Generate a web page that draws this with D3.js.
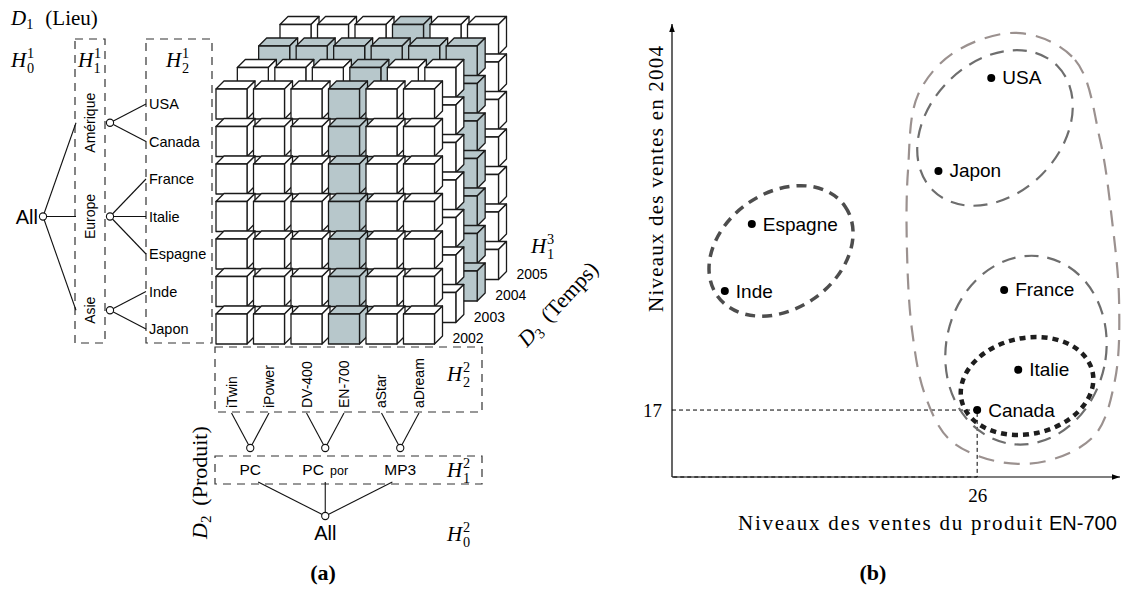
<!DOCTYPE html>
<html><head><meta charset="utf-8">
<script src="https://cdn.jsdelivr.net/npm/d3@7"></script>
<style>body{margin:0;background:#fff} svg{display:block}</style>
</head><body><div id="fig"></div>
<script>
// --- figure (a) : le cube et ses hiérarchies
const produits = ["iTwin","iPower","DV-400","EN-700","aStar","aDream"];
const categories = ["PC","PC por","MP3"];
const categorieDe = [["iTwin","iPower"],["DV-400","EN-700"],["aStar","aDream"]];
const pays = ["USA","Canada","France","Italie","Espagne","Inde","Japon"];
const regions = ["Amérique","Europe","Asie"];
const regionDe = [["USA","Canada"],["France","Italie","Espagne"],["Inde","Japon"]];
const annees = ["2002","2003","2004","2005"];
const produitChoisi = "EN-700", anneeChoisie = "2004";

// --- figure (b) : ventes par pays
const paysB = ["USA","Japon","Espagne","Inde","France","Italie","Canada"];
const ventesEN700 = [27.2,22.7,6.8,4.5,28.3,29.5,26];
const ventes2004 = [101.3,77.7,64.2,47.2,47.5,27.2,17];
const ticksX = [26], ticksY = [17];
const groupes = [["Espagne","Inde"],["USA","Japon"],["France","Italie","Canada"],["Italie","Canada"]];
const groupeLarge = ["USA","Japon","France","Italie","Canada"];
// contour du grand groupe (unités des axes)
const contourX = [29.65,34.34,36.47,37.49,38.09,37.74,36.04,32.21,27.95,23.69,21.56,20.45,20.02,20.11,20.96,24.11];
const contourY = [112.7,105.9,85.6,65.2,44.9,24.6,10.7,4.3,3.8,9.4,20.8,37.3,57.6,77.9,97.0,107.9];

const W = 1127, H = 592;
const serif = "'Liberation Serif', serif", sans = "'Liberation Sans', sans-serif";
const svg = d3.select("#fig").append("svg").attr("width", W).attr("height", H)
  .style("background", "#fff");

// texte mathématique : H avec indice et exposant
function mathH(g, x, y, sub, sup, size){
  const t = g.append("text").attr("x", x).attr("y", y)
    .attr("font-family", serif).attr("font-size", size);
  t.append("tspan").attr("font-style", "italic").text("H");
  t.append("tspan").attr("font-size", size*0.68).attr("dx", size*0.04).attr("dy", -size*0.45).text(sup);
  t.append("tspan").attr("font-size", size*0.68).attr("dx", -size*0.34).attr("dy", size*0.75).text(sub);
  return t;
}
function mathD(g, x, y, sub, rest, size, gap){
  const t = g.append("text").attr("x", x).attr("y", y)
    .attr("font-family", serif).attr("font-size", size);
  t.append("tspan").attr("font-style", "italic").text("D");
  t.append("tspan").attr("font-size", size*0.68).attr("dy", size*0.2).text(sub);
  t.append("tspan").attr("dy", -size*0.2).attr("dx", gap).text(rest);
  return t;
}

// ================= (a)
const xCol = d3.scaleBand().domain(produits).range([216, 434.5]).paddingInner(0.173);
const yRow = d3.scaleBand().domain(pays).range([89, 344]).paddingInner(0.2);
const zDx = d3.scalePoint().domain(annees).range([0, 64]);
const zDy = d3.scalePoint().domain(annees).range([0, -64.5]);
const prof = 8;
const grisCube = "#b7c7cb";

const cells = [];
annees.slice().reverse().forEach(a => pays.forEach(p => produits.forEach(pr => cells.push({a, p, pr}))));

const bw = xCol.bandwidth(), bh = yRow.bandwidth();
const cube = svg.append("g");
const cg = cube.selectAll("g.c").data(cells).enter().append("g")
  .attr("class", "c")
  .attr("transform", d => "translate(" + (xCol(d.pr) + zDx(d.a)) + "," + (yRow(d.p) + zDy(d.a)) + ")")
  .attr("fill", d => (d.pr == produitChoisi || d.a == anneeChoisie) ? grisCube : "#fff")
  .attr("stroke", "#1a1a1a").attr("stroke-width", 1.3).attr("stroke-linejoin", "round");
cg.append("path").attr("d", "M0,0L" + prof + "," + (-prof) + "L" + (bw + prof) + "," + (-prof) + "L" + bw + ",0Z");
cg.append("path").attr("d", "M" + bw + ",0L" + (bw + prof) + "," + (-prof) + "L" + (bw + prof) + "," + (bh - prof) + "L" + bw + "," + bh + "Z");
cg.append("rect").attr("width", bw).attr("height", bh);

// étiquettes des années
svg.append("g").selectAll("text").data(annees).enter().append("text")
  .attr("x", d => xCol.range()[1] + 18 + zDx(d))
  .attr("y", d => 343 + zDy(d))
  .attr("font-family", sans).attr("font-size", 14).text(d => d);

// hiérarchie des lieux
const dash = "8 6";
const boxes = svg.append("g").attr("fill", "none").attr("stroke", "#333").attr("stroke-width", 1.2).attr("stroke-dasharray", dash);
boxes.append("rect").attr("x", 75).attr("y", 39).attr("width", 30).attr("height", 304);
boxes.append("rect").attr("x", 146).attr("y", 39).attr("width", 66).attr("height", 304);
boxes.append("rect").attr("x", 215).attr("y", 347).attr("width", 267).attr("height", 65);
boxes.append("rect").attr("x", 215).attr("y", 456).attr("width", 267).attr("height", 28);

const rowC = p => yRow(p) + bh/2;
const regC = regionDe.map(m => d3.mean(m, rowC));
const allY = d3.mean(regC), allX = 43;
const nodeX = 110;
const tree = svg.append("g").attr("stroke", "#111").attr("stroke-width", 1.1);
regions.forEach((r, i) => {
  tree.append("line").attr("x1", allX).attr("y1", allY).attr("x2", 76).attr("y2", regC[i]);
  regionDe[i].forEach(p => {
    tree.append("line").attr("x1", nodeX).attr("y1", regC[i]).attr("x2", 146).attr("y2", rowC(p));
  });
});
const nodes = svg.append("g").attr("fill", "#fff").attr("stroke", "#111").attr("stroke-width", 1.1);
nodes.append("circle").attr("cx", allX).attr("cy", allY).attr("r", 3.6);
regC.forEach(y => nodes.append("circle").attr("cx", nodeX).attr("cy", y).attr("r", 3.6));

svg.append("text").attr("x", allX - 5).attr("y", allY).attr("text-anchor", "end")
  .attr("dominant-baseline", "central").attr("font-family", sans).attr("font-size", 20).text("All");
regions.forEach((r, i) => {
  svg.append("text").attr("transform", "translate(95," + regC[i] + ") rotate(-90)")
    .attr("text-anchor", "middle").attr("font-family", sans).attr("font-size", 14).text(r);
});
svg.append("g").selectAll("text").data(pays).enter().append("text")
  .attr("x", 149).attr("y", d => rowC(d)).attr("dominant-baseline", "central")
  .attr("font-family", sans).attr("font-size", 14.5).text(d => d);

// hiérarchie des produits
const colC = p => xCol(p) + bw/2;
const catX = categorieDe.map(m => d3.mean(m, colC));
const catY = 448, all2X = d3.mean(catX), all2Y = 516;
categorieDe.forEach((m, i) => {
  m.forEach(p => tree.append("line").attr("x1", colC(p)).attr("y1", 413).attr("x2", catX[i]).attr("y2", catY));
  const t = (all2Y - 482) / (all2Y - 478);
  tree.append("line").attr("x1", all2X).attr("y1", all2Y)
    .attr("x2", all2X + (catX[i] - all2X) * t).attr("y2", 482);
});
catX.forEach(x => nodes.append("circle").attr("cx", x).attr("cy", catY).attr("r", 3.6));
nodes.append("circle").attr("cx", all2X).attr("cy", all2Y).attr("r", 3.6);
svg.append("g").selectAll("text").data(produits).enter().append("text")
  .attr("transform", d => "translate(" + (colC(d) + 5) + ",408) rotate(-90)")
  .attr("font-family", sans).attr("font-size", 14).text(d => d);
categories.forEach((c, i) => {
  const t = svg.append("text").attr("x", catX[i]).attr("y", 475).attr("text-anchor", "middle")
    .attr("font-family", sans).attr("font-size", 15.5);
  const parts = c.split(" ");
  t.append("tspan").text(parts[0]);
  if (parts[1]) t.append("tspan").attr("font-size", 12.5).text("\u2002" + parts[1]);
});
svg.append("text").attr("x", all2X).attr("y", 540).attr("text-anchor", "middle")
  .attr("font-family", sans).attr("font-size", 20).text("All");

// titres mathématiques
mathD(svg, 11, 25, "1", "(Lieu)", 21, 12);
mathH(svg, 11, 67, "0", "1", 21);
mathH(svg, 78, 67, "1", "1", 21);
mathH(svg, 166, 67, "2", "1", 21);
mathH(svg, 447, 381, "2", "2", 21);
mathH(svg, 447, 477, "1", "2", 21);
mathH(svg, 447, 541, "0", "2", 21);
mathH(svg, 531, 253, "1", "3", 21);
mathD(svg.append("g").attr("transform", "translate(207,539) rotate(-90)"), 0, 0, "2", "(Produit)", 22, 10);
mathD(svg.append("g").attr("transform", "translate(527,348) rotate(-47)"), 0, 0, "3", "(Temps)", 22, 10);
svg.append("text").attr("x", 323).attr("y", 580).attr("text-anchor", "middle")
  .attr("font-family", serif).attr("font-weight", "bold").attr("font-size", 22).text("(a)");

// ================= (b)
const x = d3.scaleLinear().domain([0, 38]).range([672, 1118]);
const y = d3.scaleLinear().domain([0, 115]).range([477, 24]);

svg.append("defs").append("marker").attr("id", "fl")
  .attr("viewBox", "0 -5 10 10").attr("refX", 10).attr("refY", 0)
  .attr("markerUnits", "userSpaceOnUse").attr("markerWidth", 10).attr("markerHeight", 8)
  .attr("orient", "auto").append("path").attr("d", "M0,-3.5L10,0L0,3.5Z").attr("fill", "#000");

const gb = svg.append("g");
// pointillés vers Canada
gb.append("path")
  .attr("d", d3.line()([[x(0), y(ticksY[0])], [x(ticksX[0]), y(ticksY[0])], [x(ticksX[0]), y(0)], [x(0), y(0)]]))
  .attr("fill", "none").attr("stroke", "#000").attr("stroke-width", 1).attr("stroke-dasharray", "4 3");
gb.append("line").attr("x1", x(0)).attr("y1", y(0)).attr("x2", x(0)).attr("y2", y.range()[1])
  .attr("stroke", "#000").attr("stroke-width", 1.2).attr("marker-end", "url(#fl)");
gb.append("line").attr("x1", x(0)).attr("y1", y(0)).attr("x2", x.range()[1] + 2).attr("y2", y(0))
  .attr("stroke", "#000").attr("stroke-width", 1.2).attr("marker-end", "url(#fl)");

const ax = gb.append("g").attr("transform", "translate(0," + y(0) + ")")
  .call(d3.axisBottom(x).tickValues(ticksX).tickSize(0).tickPadding(12).tickFormat(d3.format("d")));
const ay = gb.append("g").attr("transform", "translate(" + x(0) + ",0)")
  .call(d3.axisLeft(y).tickValues(ticksY).tickSize(0).tickPadding(10).tickFormat(d3.format("d")));
[ax, ay].forEach(a => {
  a.select(".domain").remove();
  a.selectAll("text").attr("font-family", serif).attr("font-size", 19).attr("fill", "#000");
});

// contours des groupes
const pos = {};
paysB.forEach((p, i) => pos[p] = [ventesEN700[i], ventes2004[i]]);
const formes = [
  {c:[9.29, 57.4], rx:78, ry:58, rot:-35, col:"#4d4d4d", w:3.5, d:"10 7"},
  {c:[27.52, 88.6], rx:88, ry:66, rot:-45, col:"#6e6e6e", w:2.2, d:"14 9"},
  {c:[30.16, 32.2], rx:80, ry:95, rot:12, col:"#6e6e6e", w:2.2, d:"14 9"},
  {c:[30.25, 23.1], rx:67, ry:48, rot:-12, col:"#1e1e1e", w:4.5, d:"6 5"}
];
gb.append("path")
  .attr("d", d3.line().curve(d3.curveCatmullRomClosed.alpha(0.5))(contourX.map((v, i) => [x(v), y(contourY[i])])))
  .attr("fill", "none").attr("stroke", "#9b918f").attr("stroke-width", 2.2).attr("stroke-dasharray", "16 10");
groupes.forEach((g, i) => {
  const f = formes[i];
  gb.append("ellipse").attr("cx", 0).attr("cy", 0).attr("rx", f.rx).attr("ry", f.ry)
    .attr("transform", "translate(" + x(f.c[0]) + "," + y(f.c[1]) + ") rotate(" + f.rot + ")")
    .attr("fill", "none").attr("stroke", f.col).attr("stroke-width", f.w).attr("stroke-dasharray", f.d);
});

gb.selectAll("circle.pt").data(paysB).enter().append("circle").attr("class", "pt")
  .attr("cx", d => x(pos[d][0])).attr("cy", d => y(pos[d][1])).attr("r", 4).attr("fill", "#000");
gb.selectAll("text.pl").data(paysB).enter().append("text").attr("class", "pl")
  .attr("x", d => x(pos[d][0]) + 11).attr("y", d => y(pos[d][1])).attr("dominant-baseline", "central")
  .attr("font-family", sans).attr("font-size", 19).text(d => d);

gb.append("text").attr("transform", "translate(663,179) rotate(-90)")
  .attr("text-anchor", "middle").attr("font-family", serif).attr("font-size", 21)
  .attr("textLength", 266).attr("lengthAdjust", "spacing")
  .text("Niveaux des ventes en 2004");
const xl = gb.append("text").attr("x", 738).attr("y", 530)
  .attr("font-family", serif).attr("font-size", 21);
xl.append("tspan").attr("textLength", 304).attr("lengthAdjust", "spacing").text("Niveaux des ventes du produit");
xl.append("tspan").attr("x", 1049).attr("font-family", sans).attr("font-size", 20).text("EN-700");
gb.append("text").attr("x", 873).attr("y", 580).attr("text-anchor", "middle")
  .attr("font-family", serif).attr("font-weight", "bold").attr("font-size", 22).text("(b)");
</script>
</body></html>
